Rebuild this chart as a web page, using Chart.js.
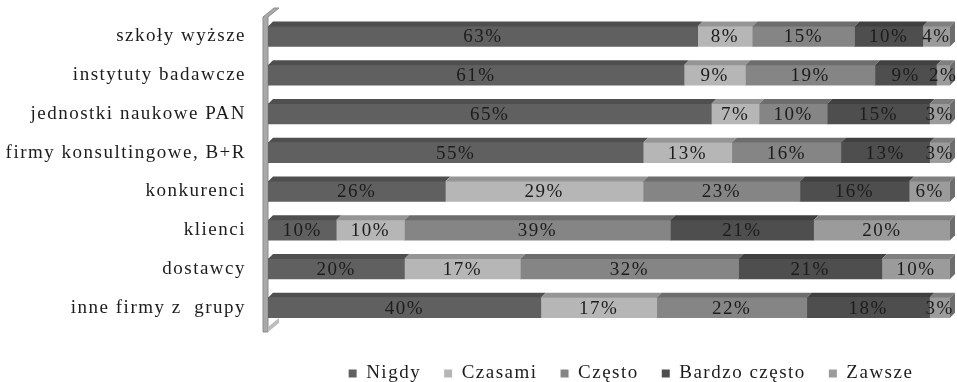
<!DOCTYPE html>
<html lang="pl">
  <head>
    <meta charset="UTF-8">
    <title>Współpraca</title>
    <script src="https://cdn.jsdelivr.net/npm/chart.js@4.4.0/dist/chart.umd.min.js"></script>
    <style>
      body { margin: 0; background: #fff; }
      #wrap { width: 957px; height: 382px; position: relative; }
    </style>
  </head>
  <body>
    <div id="wrap"><canvas id="chart"></canvas></div>
    <script type="text/javascript">
      const categories = ['szkoły wyższe', 'instytuty badawcze', 'jednostki naukowe PAN',
        'firmy konsultingowe, B+R', 'konkurenci', 'klienci', 'dostawcy', 'inne firmy z  grupy']
      const nigdy = [63, 61, 65, 55, 26, 10, 20, 40]
      const czasami = [8, 9, 7, 13, 29, 10, 17, 17]
      const czesto = [15, 19, 10, 16, 23, 39, 32, 22]
      const bardzoCzesto = [10, 9, 15, 13, 16, 21, 21, 18]
      const zawsze = [4, 2, 3, 3, 6, 20, 10, 3]

      const FONT = 'Liberation Serif'
      const SPACING = '1.5px'

      function shade(hex, f) {
        const n = parseInt(hex.slice(1), 16)
        const c = [n >> 16, (n >> 8) & 255, n & 255].map(v => Math.max(0, Math.min(255, Math.round(v * f))))
        return 'rgb(' + c.join(',') + ')'
      }

      const spacing = {
        id: 'spacing',
        beforeUpdate(chart) { chart.ctx.letterSpacing = SPACING },
        beforeDraw(chart) { chart.ctx.letterSpacing = SPACING }
      }

      // the legend sits right of centre in the original
      const moveLegend = {
        id: 'moveLegend',
        afterLayout(chart) {
          const lg = chart.legend
          const dx = 156, dy = 14
          lg.left += dx; lg.right += dx
          lg.top += dy; lg.bottom += dy
        }
      }

      const bar3d = {
        id: 'bar3d',
        beforeDatasetsDraw(chart) {
          const { ctx, chartArea: a } = chart
          const dx = 11, dy = 9
          ctx.save()
          // side wall
          ctx.fillStyle = '#a9a9a9'
          ctx.strokeStyle = '#8c8c8c'
          ctx.lineWidth = 1
          ctx.beginPath()
          ctx.moveTo(a.left - 5, a.top)
          ctx.lineTo(a.left - 5 + dx, a.top - dy)
          ctx.lineTo(a.left + dx, a.top - dy)
          ctx.lineTo(a.left, a.top)
          ctx.lineTo(a.left, a.bottom + 5)
          ctx.lineTo(a.left - 5, a.bottom + 5)
          ctx.closePath()
          ctx.fill()
          ctx.stroke()
          ctx.fillStyle = '#bdbdbd'
          ctx.beginPath()
          ctx.moveTo(a.left, a.bottom + 5)
          ctx.lineTo(a.left + dx, a.bottom + 5 - dy)
          ctx.lineTo(a.left + dx, a.bottom - dy)
          ctx.lineTo(a.left, a.bottom)
          ctx.closePath()
          ctx.fill()
          ctx.restore()
        },
        afterDatasetsDraw(chart) {
          const { ctx } = chart
          const dx = 5, dy = 5
          ctx.save()
          const n = chart.data.datasets.length
          chart.data.datasets.forEach((ds, di) => {
            const meta = chart.getDatasetMeta(di)
            meta.data.forEach((bar, i) => {
              const p = bar.getProps(['x', 'y', 'base', 'height'], true)
              const x0 = Math.min(p.x, p.base), x1 = Math.max(p.x, p.base)
              const yt = p.y - p.height / 2, yb = p.y + p.height / 2
              ctx.fillStyle = shade(ds.backgroundColor, 0.82)
              ctx.beginPath()
              ctx.moveTo(x0, yt)
              ctx.lineTo(x0 + dx, yt - dy)
              ctx.lineTo(x1 + dx, yt - dy)
              ctx.lineTo(x1, yt)
              ctx.closePath()
              ctx.fill()
              if (di === n - 1) {
                ctx.fillStyle = shade(ds.backgroundColor, 0.7)
                ctx.beginPath()
                ctx.moveTo(x1, yt)
                ctx.lineTo(x1 + dx, yt - dy)
                ctx.lineTo(x1 + dx, yb - dy)
                ctx.lineTo(x1, yb)
                ctx.closePath()
                ctx.fill()
              }
            })
          })
          // value labels
          ctx.font = '19px "' + FONT + '"'
          ctx.fillStyle = '#1c1c1c'
          ctx.textAlign = 'center'
          ctx.textBaseline = 'middle'
          chart.data.datasets.forEach((ds, di) => {
            chart.getDatasetMeta(di).data.forEach((bar, i) => {
              const p = bar.getProps(['x', 'y', 'base'], true)
              ctx.fillText(ds.data[i] + '%', (p.x + p.base) / 2, p.y + 1)
            })
          })
          ctx.restore()
        }
      }

      const ctx = document.getElementById('chart').getContext('2d')
      const chart = new Chart(ctx, {
        type: 'bar',
        data: {
          labels: categories,
          datasets: [
            { label: 'Nigdy', data: nigdy, backgroundColor: '#606060' },
            { label: 'Czasami', data: czasami, backgroundColor: '#b6b6b6' },
            { label: 'Często', data: czesto, backgroundColor: '#858585' },
            { label: 'Bardzo często', data: bardzoCzesto, backgroundColor: '#4e4e4e' },
            { label: 'Zawsze', data: zawsze, backgroundColor: '#9b9b9b' }
          ]
        },
        options: {
          indexAxis: 'y',
          responsive: true,
          maintainAspectRatio: false,
          animation: false,
          barThickness: 20,
          layout: { padding: { left: 0, right: 7, top: 17, bottom: 3 } },
          scales: {
            x: { stacked: true, min: 0, max: 100, display: false },
            y: {
              stacked: true,
              grid: { display: false, drawTicks: false },
              border: { display: false },
              afterFit(axis) {
                axis.width = 268
                axis.paddingTop = 0
                axis.paddingBottom = 0
              },
              ticks: {
                padding: 22,
                color: '#1c1c1c',
                font: { family: FONT, size: 19 }
              }
            }
          },
          plugins: {
            tooltip: { enabled: false },
            legend: {
              position: 'bottom',
              labels: {
                boxWidth: 8,
                boxHeight: 8,
                padding: 23,
                color: '#1c1c1c',
                font: { family: FONT, size: 19 }
              }
            }
          }
        },
        plugins: [spacing, moveLegend, bar3d]
      })
    </script>
  </body>
</html>
